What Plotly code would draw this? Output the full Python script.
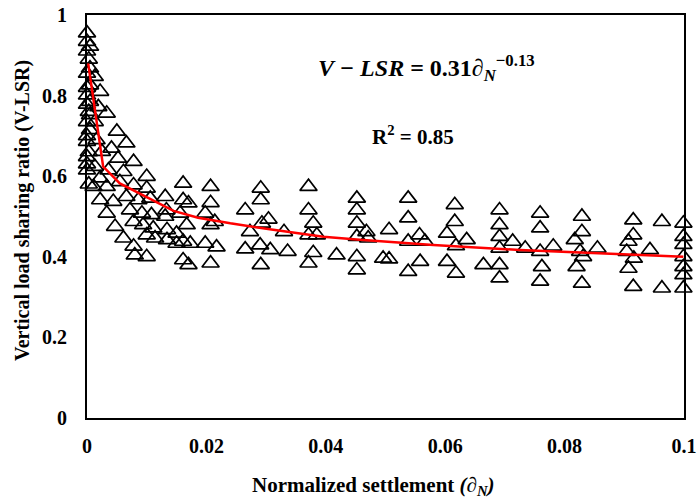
import plotly.graph_objects as go

# Scatter data: normalized settlement vs vertical load sharing ratio
settlement = [
    0.0000, 0.0000, 0.0005, 0.0000, 0.0005, 0.0000, 0.0013, 0.0005, 0.0022, 0.0000,
    0.0005, 0.0000, 0.0019, 0.0033, 0.0005, 0.0000, 0.0013, 0.0050, 0.0005, 0.0000,
    0.0016, 0.0041, 0.0066, 0.0025, 0.0000, 0.0052, 0.0078, 0.0013, 0.0000, 0.0036,
    0.0061, 0.0100, 0.0022, 0.0003, 0.0000, 0.0003, 0.0000, 0.0003, 0.0000, 0.0003,
    0.0011, 0.0033, 0.0055, 0.0078, 0.0100, 0.0022, 0.0044, 0.0066, 0.0086, 0.0106,
    0.0131, 0.0161, 0.0161, 0.0033, 0.0072, 0.0092, 0.0108, 0.0131, 0.0156, 0.0047,
    0.0078, 0.0094, 0.0111, 0.0134, 0.0150, 0.0167, 0.0061, 0.0100, 0.0114, 0.0134,
    0.0161, 0.0173, 0.0078, 0.0150, 0.0100, 0.0161, 0.0080, 0.0133, 0.0170, 0.0170,
    0.0207, 0.0207, 0.0198, 0.0207, 0.0214, 0.0198, 0.0217, 0.0207, 0.0265, 0.0273,
    0.0265, 0.0291, 0.0291, 0.0293, 0.0304, 0.0290, 0.0307, 0.0291, 0.0330, 0.0336,
    0.0371, 0.0371, 0.0379, 0.0371, 0.0385, 0.0379, 0.0371, 0.0418, 0.0452, 0.0452,
    0.0452, 0.0452, 0.0452, 0.0452, 0.0468, 0.0471, 0.0496, 0.0506, 0.0506, 0.0538,
    0.0538, 0.0538, 0.0538, 0.0557, 0.0566, 0.0558, 0.0616, 0.0616, 0.0603, 0.0618,
    0.0636, 0.0603, 0.0618, 0.0664, 0.0691, 0.0691, 0.0691, 0.0691, 0.0691, 0.0691,
    0.0713, 0.0734, 0.0759, 0.0759, 0.0759, 0.0762, 0.0759, 0.0781, 0.0829, 0.0829,
    0.0817, 0.0826, 0.0831, 0.0820, 0.0829, 0.0855, 0.0915, 0.0915, 0.0907, 0.0904,
    0.0916, 0.0907, 0.0915, 0.0943, 0.0963, 0.0963, 0.0999, 0.0999, 0.0999, 0.0999,
    0.0999, 0.0999, 0.0999,
]
vlsr = [
    0.955, 0.934, 0.922, 0.910, 0.868, 0.855, 0.847, 0.826, 0.810, 0.801,
    0.785, 0.778, 0.772, 0.756, 0.752, 0.735, 0.735, 0.711, 0.715, 0.686,
    0.690, 0.669, 0.682, 0.661, 0.648, 0.644, 0.636, 0.624, 0.615, 0.615,
    0.611, 0.599, 0.595, 0.580, 0.630, 0.660, 0.700, 0.760, 0.820, 0.890,
    0.574, 0.574, 0.586, 0.578, 0.570, 0.541, 0.537, 0.549, 0.541, 0.545,
    0.549, 0.582, 0.541, 0.508, 0.516, 0.508, 0.504, 0.500, 0.508, 0.475,
    0.487, 0.479, 0.471, 0.467, 0.458, 0.479, 0.446, 0.454, 0.446, 0.442,
    0.438, 0.433, 0.426, 0.433, 0.400, 0.392, 0.404, 0.516, 0.533, 0.380,
    0.574, 0.534, 0.508, 0.479, 0.487, 0.433, 0.424, 0.384, 0.516, 0.462,
    0.419, 0.570, 0.541, 0.483, 0.493, 0.429, 0.417, 0.380, 0.462, 0.413,
    0.574, 0.516, 0.483, 0.454, 0.454, 0.410, 0.384, 0.404, 0.545, 0.516,
    0.483, 0.450, 0.400, 0.367, 0.462, 0.446, 0.396, 0.467, 0.394, 0.545,
    0.496, 0.438, 0.363, 0.454, 0.438, 0.388, 0.529, 0.487, 0.458, 0.427,
    0.442, 0.388, 0.359, 0.380, 0.516, 0.479, 0.450, 0.421, 0.380, 0.347,
    0.438, 0.421, 0.508, 0.471, 0.413, 0.375, 0.339, 0.426, 0.500, 0.462,
    0.442, 0.413, 0.400, 0.375, 0.334, 0.421, 0.491, 0.454, 0.438, 0.413,
    0.396, 0.371, 0.326, 0.417, 0.487, 0.322, 0.483, 0.450, 0.430, 0.400,
    0.375, 0.355, 0.322,
]

# Fitted power-law curve as drawn in the chart
fit_x = [0.0002, 0.0027, 0.0055, 0.0100, 0.0145, 0.0186, 0.0240, 0.0312,
         0.0396, 0.0457, 0.0580, 0.0725, 0.0854, 0.0999]
fit_y = [0.880, 0.624, 0.582, 0.549, 0.514, 0.497, 0.483, 0.467,
         0.450, 0.442, 0.429, 0.417, 0.409, 0.400]

x_ticks = [0, 0.02, 0.04, 0.06, 0.08, 0.1]
x_tick_text = ["0", "0.02", "0.04", "0.06", "0.08", "0.1"]
y_ticks = [0, 0.2, 0.4, 0.6, 0.8, 1]
y_tick_text = ["0", "0.2", "0.4", "0.6", "0.8", "1"]

serif = "Liberation Serif, Times New Roman, serif"

fig = go.Figure()
fig.add_trace(go.Scatter(
    x=settlement, y=vlsr, mode="markers",
    marker=dict(symbol="triangle-up-open", size=15, color="black",
                line=dict(color="black", width=1.7)),
    showlegend=False, cliponaxis=False,
))
fig.add_trace(go.Scatter(
    x=fit_x, y=fit_y, mode="lines",
    line=dict(color="#ff0000", width=2.5),
    showlegend=False,
))

fig.add_annotation(
    x=0.0568, y=0.868, xref="x", yref="y", showarrow=False,
    text="<b><i>V − LSR</i> = 0.31<i>∂</i><sub><i>N</i></sub><sup>−0.13</sup></b>",
    font=dict(family=serif, size=24, color="black"),
)
fig.add_annotation(
    x=0.0546, y=0.702, xref="x", yref="y", showarrow=False,
    text="<b>R<sup>2</sup> = 0.85</b>",
    font=dict(family=serif, size=21, color="black"),
)
# Axis titles
fig.add_annotation(
    x=0.48, y=-0.168, xref="paper", yref="paper", showarrow=False,
    xanchor="center", yanchor="middle",
    text="<b>Normalized settlement <i>(∂<sub>N</sub>)</i></b>",
    font=dict(family=serif, size=21, color="black"),
)
fig.add_annotation(
    x=-0.108, y=0.515, xref="paper", yref="paper", showarrow=False,
    xanchor="center", yanchor="middle", textangle=-90,
    text="<b>Vertical load sharing ratio (V-LSR)</b>",
    font=dict(family=serif, size=20, color="black"),
)

fig.update_xaxes(
    range=[0, 0.1], tickvals=x_ticks, ticktext=x_tick_text,
    showgrid=False, zeroline=False, showline=True, mirror=True,
    linecolor="black", linewidth=2, ticks="", ticklabelstandoff=9,
    automargin=False,
    tickfont=dict(family=serif, size=20, color="black", weight="bold"),
)
fig.update_yaxes(
    range=[0, 1], tickvals=y_ticks, ticktext=y_tick_text,
    showgrid=False, zeroline=False, showline=True, mirror=True,
    linecolor="black", linewidth=2, ticks="", ticklabelstandoff=14,
    automargin=False,
    tickfont=dict(family=serif, size=20, color="black", weight="bold"),
)
fig.update_layout(
    width=697, height=500,
    margin=dict(l=87, r=13, t=15, b=82),
    paper_bgcolor="white", plot_bgcolor="white",
)
fig.write_html("out.html")
